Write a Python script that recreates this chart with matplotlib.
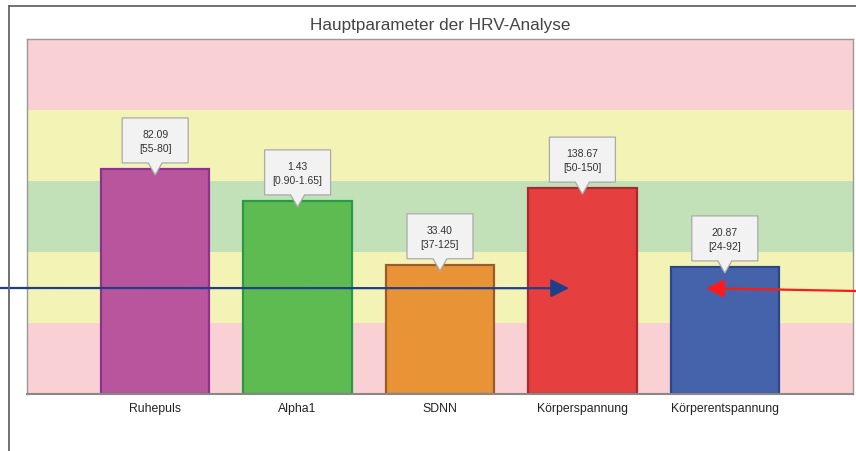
import matplotlib
matplotlib.use("Agg")
import matplotlib.pyplot as plt
from matplotlib.patches import Polygon
from matplotlib.transforms import Affine2D, ScaledTranslation
from matplotlib.lines import Line2D

plt.rcParams['font.family'] = ['Liberation Sans', 'DejaVu Sans']

# ---- data ----
categories = ["Ruhepuls", "Alpha1", "SDNN", "Körperspannung", "Körperentspannung"]
scores = [3.17, 2.72, 1.82, 2.90, 1.79]          # normalised bar height (0-5 scale)
values = ["82.09", "1.43", "33.40", "138.67", "20.87"]
ranges = ["[55-80]", "[0.90-1.65]", "[37-125]", "[50-150]", "[24-92]"]
fill_colors = ["#b8559d", "#5dbb52", "#e89336", "#e53f40", "#4563ab"]
edge_colors = ["#8e3290", "#2a9a44", "#9a5c2c", "#a82a2c", "#2c4689"]
band_edges = [0, 1, 2, 3, 4, 5]
band_colors = ["#f9d0d3", "#f4f3b6", "#c3e1b8", "#f4f3b6", "#f9d0d3"]

W, H = 856, 452
fig = plt.figure(figsize=(W / 100, H / 100), dpi=100)
fig.patch.set_facecolor("white")

# outer frame lines (left and top)
fig.add_artist(Line2D([9 / W, 9 / W], [0, 1 - 7 / H], transform=fig.transFigure,
                      color="#666666", lw=1.3))
fig.add_artist(Line2D([9 / W, 1], [1 - 7 / H, 1 - 7 / H], transform=fig.transFigure,
                      color="#666666", lw=1.3))

ax = fig.add_axes([27 / W, 57 / H, 826 / W, 355 / H])
ax.set_xlim(-0.9, len(categories) - 0.1)
ax.set_ylim(band_edges[0], band_edges[-1])

for i, c in enumerate(band_colors):
    ax.axhspan(band_edges[i], band_edges[i + 1], color=c, lw=0, zorder=0)

x = list(range(len(categories)))
ax.bar(x, scores, width=0.76, color=fill_colors, edgecolor=edge_colors,
       linewidth=1.6, zorder=2)

# callout boxes
for i, (s, v, r) in enumerate(zip(scores, values, ranges)):
    trans = Affine2D() + ScaledTranslation(i, s, ax.transData)
    verts = [(-33, 6), (-7, 6), (0, -6), (7, 6), (33, 6), (33, 51), (-33, 51)]
    poly = Polygon(verts, closed=True, facecolor="#f2f2f2", edgecolor="#aaaaaa",
                   lw=0.9, transform=trans, zorder=4, clip_on=False)
    ax.add_patch(poly)
    ax.text(0, 35, v, transform=trans, ha="center", va="center", fontsize=7.5,
            color="#333333", zorder=5)
    ax.text(0, 21, r, transform=trans, ha="center", va="center", fontsize=7.5,
            color="#333333", zorder=5)

ax.set_xticks(x)
ax.set_xticklabels(categories, fontsize=8.8, color="#222222")
ax.tick_params(axis="x", length=0, pad=6)
ax.set_yticks([])
for sp in ax.spines.values():
    sp.set_color("#999999")
    sp.set_linewidth(1.0)
ax.spines["bottom"].set_color("#888888")
ax.spines["bottom"].set_linewidth(1.5)

ax.set_title("Hauptparameter der HRV-Analyse", fontsize=12.3, color="#444444", pad=7)

# arrows
ax.annotate("", xy=(2.906, 1.49), xycoords="data",
            xytext=(0, H - 289), textcoords="figure pixels",
            arrowprops=dict(arrowstyle="-|>,head_length=1.1,head_width=0.55",
                            mutation_scale=10, color="#1f3f8a", lw=1.6,
                            shrinkA=0, shrinkB=0),
            annotation_clip=False, zorder=6)
ax.annotate("", xy=(3.868, 1.49), xycoords="data",
            xytext=(W, H - 292), textcoords="figure pixels",
            arrowprops=dict(arrowstyle="-|>,head_length=1.1,head_width=0.55",
                            mutation_scale=10, color="#ff1a1a", lw=1.6,
                            shrinkA=0, shrinkB=0),
            annotation_clip=False, zorder=6)

fig.savefig("out.png", dpi=100)
